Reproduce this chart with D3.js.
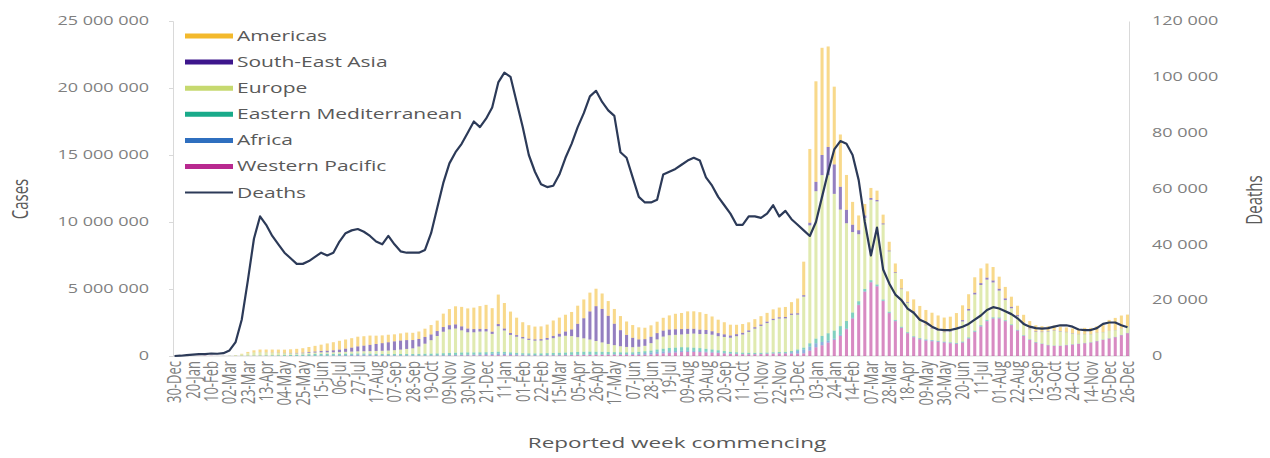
<!DOCTYPE html>
<html>
<head>
<meta charset="utf-8">
<script src="https://cdnjs.cloudflare.com/ajax/libs/d3/7.8.5/d3.min.js"></script>
<style>
  body { margin: 0; background: #fff; }
  svg { display: block; font-family: 'Open Sans', sans-serif; }
</style>
</head>
<body>
<svg id="chart" width="1270" height="458"></svg>
<script>
// Weekly cases by WHO region (thousands), week commencing 30-Dec-2019 .. 26-Dec-2022
const americas = [
  0,0,0,0,0,0,0,0,0, 1,8,40,100, 160,200,210,220,230, 240,270,300,330,
  380,420,470,540,600, 650,680,700,720, 700,690,620,580,560, 520,530,560,540,
  560,620,700,780, 1000,1200,1350,1450,1500, 1600,1700,1800,1750,
  2200,1900,1600,1300, 1100,1000,950,950, 1000,1150,1200,1250,1300, 1350,1400,1400,1300,
  1150,1100,1100,1050, 1000,950,900,850,850, 850,950,1050,1150, 1200,1300,1300,1300,1200,
  1100,1000,900,800, 700,650,600,600, 620,650,700,720,750, 850,1100,2500,5500,
  7500,8000,7500,5800,3900,2600,1700,1100,850,750,700,650,650,
  650,700,800,900,1000,1100,1150,1100,1050,1050,1100,1100,1100,
  1150,1100,1050,1000,900,850,750,700,600,550, 450,400,350,350,330,330,350,380,450,450,
  480,550,800,900,950,900
];
const southEastAsia = [
  0,0,0,0,0,0,0,0,0, 0,0,0,0, 3,5,8,12,15, 20,25,35,45,
  60,80,100,120,150, 190,240,300,370, 420,470,520,570,620, 660,680,660,620,
  560,500,430,370, 350,320,310,300,280, 240,200,180,170,
  160,150,140,120, 110,100,100,110, 130,170,220,320,500, 1000,1500,2100,2600,
  2500,2100,1600,1200, 900,700,550,500,480, 470,450,430,420, 400,380,360,330,300,
  260,230,200,170, 150,130,120,110, 110,110,100,100,100, 100,100,110,200,
  700,1500,2100,2200,1700,1000,550,300,190,130,100,80,65,
  55,50,45,45,45,40,40,40,45,60,80,100,120,
  130,140,150,150,140,130,110,90,70,55, 45,40,35,30,28,25,25,20,20,18,
  16,14,12,12,10,10
];
const europe = [
  0,0,0,0,0,0,0,0,2, 15,45,110,180, 230,240,220,200,180, 150,130,110,100,
  100,110,120,120,120, 130,140,150,160, 170,190,220,240,260, 290,330,380,420,
  550,750,1000,1300, 1600,1750,1800,1650,1500, 1500,1550,1550,1350,
  1900,1600,1300,1200, 1100,1000,950,950, 1000,1100,1200,1250,1200, 1100,1000,900,800,
  700,600,520,450, 400,380,380,400,550, 750,900,950,950, 950,1000,1050,1050,1100,
  1100,1050,1050,1050, 1200,1350,1550,1800, 2000,2200,2400,2500,2500, 2700,2600,3800,8800,
  11000,12000,11800,10200,8700,7300,6000,5000,5300,6000,6200,5600,4500,
  3500,2800,2200,1800,1350,1050,850,750,700,800,1050,1500,2000,
  2700,3000,3000,2600,2000,1500,1200,1000,850,750, 750,850,1000,1100,1050,950,800,700,650,600,
  600,550,550,500,480,450
];
const easternMediterranean = [
  0,0,0,0,0,0,0,1,3, 5,8,12,18, 22,27,35,40,45, 55,65,75,90,
  110,120,125,120,115, 110,105,100,95, 90,85,80,80,85, 90,95,100,105,
  110,120,130,140, 150,160,165,170,170, 160,150,140,130,
  130,125,120,115, 110,115,120,130, 140,150,160,170,185, 200,210,210,200,
  190,170,150,140, 130,125,130,140,150, 180,210,240,260, 270,260,240,220,200,
  180,160,140,120, 110,100,95,90, 85,80,80,80,80, 90,110,150,250,
  350,450,550,600,650,550,400,250,170,130,110,90,80,
  70,60,50,45,40,35,30,30,30,35,40,50,60,
  70,75,75,70,60,55,50,45,40,35, 30,25,25,25,20,20,20,20,20,20,
  20,20,20,20,20,20
];
const africa = [
  0,0,0,0,0,0,0,0,0, 0,0,1,1, 2,3,4,5,6, 7,9,11,14,
  18,24,28,32,38, 45,55,65,75, 75,70,60,55,50, 45,40,35,35,
  35,35,35,35, 40,45,50,55,60, 65,75,90,110,
  130,120,100,80, 60,50,45,40, 40,40,40,40,40, 40,40,40,35,
  35,35,40,45, 55,70,90,120,140, 150,140,120,110, 100,90,85,80,70,
  60,50,40,35, 30,25,20,20, 18,18,20,25,40, 100,200,280,300,
  300,250,150,100,80,60,50,40,35,30,30,30,30,
  30,30,30,35,50,60,60,55,45,40,35,30,30,
  25,25,25,20,20,20,15,15,15,15, 15,10,10,10,10,10,10,10,10,10,
  10,10,10,10,10,10
];
const westernPacific = [
  0,0,1,3,15,20,17,5,3, 3,2,3,5, 7,8,6,4,3, 2,2,2,2,
  3,3,4,5,6, 8,11,15,20, 22,20,18,15,12, 12,12,12,12,
  13,14,16,18, 22,28,35,40,42, 45,50,55,60,
  65,60,55,45, 40,35,30,30, 35,40,45,50,60, 65,70,80,85,
  90,95,100,95, 90,85,90,100,120, 160,200,240,260, 290,300,300,290,270,
  250,220,190,160, 140,130,130,130, 140,160,180,190,190, 180,180,200,400,
  650,800,1000,1200,1500,2000,2800,3800,4800,5500,5200,4100,3200,
  2600,2100,1700,1400,1250,1150,1100,1050,1000,950,900,1000,1300,
  1800,2200,2600,2800,2800,2600,2300,1900,1500,1200, 1000,900,800,750,750,800,850,900,950,1000,
  1100,1200,1300,1400,1550,1700
];
// Weekly deaths (thousands)
const deaths = [
  0,0.1,0.3,0.5,0.7,0.7,0.9,0.8,1.0, 2,5,13,27, 42,50,47,43,40, 37,35,33,33,
  34,35.5,37,36,37, 41,44,45,45.5, 44.5,43,41,40,43, 40,37.5,37,37,
  37,38,44,53, 62,69,73,76,80, 84,82,85,89,
  98,101.5,100,91, 82,72,66,61.5, 60.5,61,65,71,76, 82,87,93,95,
  91,88,86,73, 71,64,57,55,55, 56,65,66,67, 68.5,70,71,70,64,
  61,57,54,51, 47,47,50,50, 49.5,51,54,50,52, 49,47,45,43,
  48,57,66,74,77,76,72,63,48,36,46,31,26,
  22,20,17,15.5,13,12,10.5,9.5,9.3,9.3,9.8,10.5,11.5,
  13,14.5,16.5,17.5,17,16,15,13.5,11.5,10.5, 10,9.8,10,10.5,11,11,10.5,9.5,9.3,9.3,
  10,11.5,12,12,11,10.3
];
// one label every third week
const tickLabels = [
  "30-Dec","20-Jan","10-Feb","02-Mar","23-Mar","13-Apr","04-May","25-May","15-Jun","06-Jul",
  "27-Jul","17-Aug","07-Sep","28-Sep","19-Oct","09-Nov","30-Nov","21-Dec","11-Jan","01-Feb",
  "22-Feb","15-Mar","05-Apr","26-Apr","17-May","07-Jun","28-Jun","19-Jul","09-Aug","30-Aug",
  "20-Sep","11-Oct","01-Nov","22-Nov","13-Dec","03-Jan","24-Jan","14-Feb","07-Mar","28-Mar",
  "18-Apr","09-May","30-May","20-Jun","11-Jul","01-Aug","22-Aug","12-Sep","03-Oct","24-Oct",
  "14-Nov","05-Dec","26-Dec"
];
const casesTicks = [0, 5e6, 10e6, 15e6, 20e6, 25e6];
const deathsTicks = [0, 20000, 40000, 60000, 80000, 100000, 120000];

// stacked bottom -> top
const series = [
  { key: "Western Pacific", values: westernPacific, color: "#b8298f" },
  { key: "Africa", values: africa, color: "#2f6fbf" },
  { key: "Eastern Mediterranean", values: easternMediterranean, color: "#19aa8a" },
  { key: "Europe", values: europe, color: "#c6d96f" },
  { key: "South-East Asia", values: southEastAsia, color: "#3d168c" },
  { key: "Americas", values: americas, color: "#f3b92c" }
];
const deathColor = "#2c3a58";
const textColor = "#595959";
const axisColor = "#d9d9d9";
const SX = 1.5; // reference text looks stretched horizontally

const nWeeks = deaths.length;
const svg = d3.select("#chart");

const x = d3.scaleBand().domain(d3.range(nWeeks)).range([173, 1129]).paddingInner(0.5);
const yCases = d3.scaleLinear().domain([0, 25e6]).range([356, 21]);
const yDeaths = d3.scaleLinear().domain([0, 120000]).range([356, 21]);
const fmt = d3.formatLocale({ decimal: ".", thousands: " ", grouping: [3], currency: ["", ""] }).format(",");

// text helper (stretched horizontally like the reference)
function label(x0, y0, txt, opts) {
  opts = opts || {};
  const g = svg.append("g")
    .attr("transform", `translate(${x0},${y0}) scale(${SX},1)` + (opts.rotate ? " rotate(-90)" : ""));
  return g.append("text")
    .attr("text-anchor", opts.anchor || "start")
    .attr("dy", "0.35em")
    .style("font-size", (opts.size || 12) + "px")
    .style("fill", opts.color || textColor)
    .text(txt);
}

// Axes lines
svg.append("g").attr("transform", "translate(173,0)")
  .call(d3.axisLeft(yCases).tickValues(casesTicks).tickSize(4).tickFormat(""))
  .call(g => g.selectAll("path,line").attr("stroke", axisColor));
svg.append("g").attr("transform", "translate(1129,0)")
  .call(d3.axisRight(yDeaths).tickValues(deathsTicks).tickSize(0).tickFormat(""))
  .call(g => g.selectAll("path,line").attr("stroke", axisColor));
svg.append("line").attr("x1", 173).attr("x2", 1129).attr("y1", 356).attr("y2", 356)
  .attr("stroke", axisColor);

casesTicks.forEach(v => label(149, yCases(v), fmt(v), { anchor: "end", size: 12, color: "#7f7f7f" }));
deathsTicks.forEach(v => label(1152, yDeaths(v), fmt(v), { anchor: "start", size: 12, color: "#7f7f7f" }));

// Stacked bars
const rows = d3.range(nWeeks).map(i => {
  const r = { i: i };
  series.forEach(s => { r[s.key] = s.values[i] * 1000; });
  return r;
});
const stacked = d3.stack().keys(series.map(s => s.key))(rows);

svg.append("g").selectAll("g")
  .data(stacked)
  .join("g")
  .attr("fill", (d, k) => series[k].color)
  .attr("fill-opacity", 0.55)
  .selectAll("rect")
  .data(d => d.filter(p => p[1] > p[0]))
  .join("rect")
  .attr("x", p => x(p.data.i))
  .attr("width", x.bandwidth())
  .attr("y", p => yCases(p[1]))
  .attr("height", p => yCases(p[0]) - yCases(p[1]));

// Deaths line
const line = d3.line()
  .x((d, i) => x(i) + x.bandwidth() / 2)
  .y(d => yDeaths(d * 1000));
svg.append("path")
  .datum(deaths)
  .attr("fill", "none")
  .attr("stroke", deathColor)
  .attr("stroke-width", 2.2)
  .attr("stroke-linejoin", "round")
  .attr("d", line);

// X tick labels (rotated)
tickLabels.forEach((t, k) => {
  const i = k * 3;
  label(x(i) + x.bandwidth() / 2, 361, t, { anchor: "end", size: 13, rotate: true, color: "#7f7f7f" });
});

// Axis titles
label(677, 443, "Reported week commencing", { anchor: "middle", size: 15 });
label(20, 199, "Cases", { anchor: "middle", size: 15, rotate: true });
label(1254, 200, "Deaths", { anchor: "middle", size: 15, rotate: true });

// Legend
const legendItems = series.slice().reverse().concat([{ key: "Deaths", color: deathColor, line: true }]);
legendItems.forEach((s, k) => {
  const ly = 36 + k * 26.1;
  svg.append("line")
    .attr("x1", 185).attr("x2", 233).attr("y1", ly).attr("y2", ly)
    .attr("stroke", s.color)
    .attr("stroke-width", s.line ? 2 : 5);
  label(237, ly, s.key, { size: 14 });
});
</script>
</body>
</html>
